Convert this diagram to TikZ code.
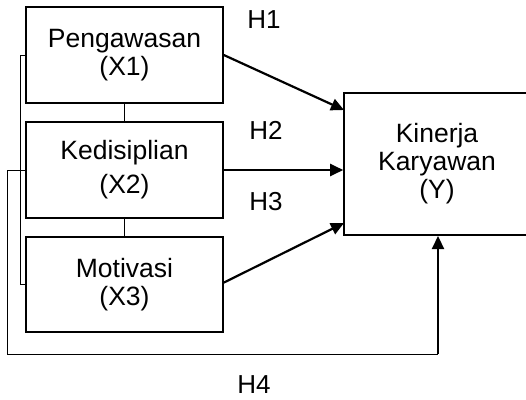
\documentclass[tikz,border=0pt]{standalone}
\usepackage{fontspec}
\setmainfont{Liberation Sans}
\usetikzlibrary{arrows.meta}
\begin{document}
\begin{tikzpicture}[x=1pt,y=-1pt,
  box/.style={draw,line width=1.6pt,inner sep=0pt,align=center,font=\fontsize{26.5}{28}\selectfont},
  lbl/.style={inner sep=0pt,font=\fontsize{26}{28}\selectfont},
  arr/.style={line width=2.2pt,-{Triangle[length=13pt,width=12pt]}},
  thin/.style={line width=0.9pt}]
\useasboundingbox (0,0) rectangle (526,399);
\begin{scope}
\clip (0,0) rectangle (526,399);
\node[box,minimum width=197pt,minimum height=96pt] (x1) at (124.5,55) {Pengawasan\\(X1)};
\node[box,minimum width=197pt,minimum height=96pt] (x2) at (124.5,170) {Kedisiplian\\[6pt](X2)};
\node[box,minimum width=197pt,minimum height=95pt] (x3) at (124.5,284.5) {Motivasi\\(X3)};
\node[box,minimum width=186pt,minimum height=142pt] (y) at (437,164) {Kinerja\\Karyawan\\(Y)};
\end{scope}
\node[lbl] (h1) at (264,20) {H1};
\node[lbl] (h2) at (266,130) {H2};
\node[lbl] (h3) at (266,202) {H3};
\node[lbl] (h4) at (254,385) {H4};
\coordinate (ytl) at (344,110);
\coordinate (ybl) at (344,223);
\coordinate (ybot) at (438,236);
\draw[thin] (x1.south) -- (x2.north);
\draw[thin] (x2.south) -- (x3.north);
\draw[thin] (x1.west) -- ++(-5,0) |- (x3.west);
\draw[thin] (x2.west) -- (7,170) -- (7,354) -- (438,354);
\draw[arr] (438,354) -- (ybot);
\draw[arr] (x1.east) -- (ytl);
\draw[arr] (x2.east) -- (y.west |- x2.east);
\draw[arr] (223,283) -- (ybl);
\end{tikzpicture}
\end{document}
